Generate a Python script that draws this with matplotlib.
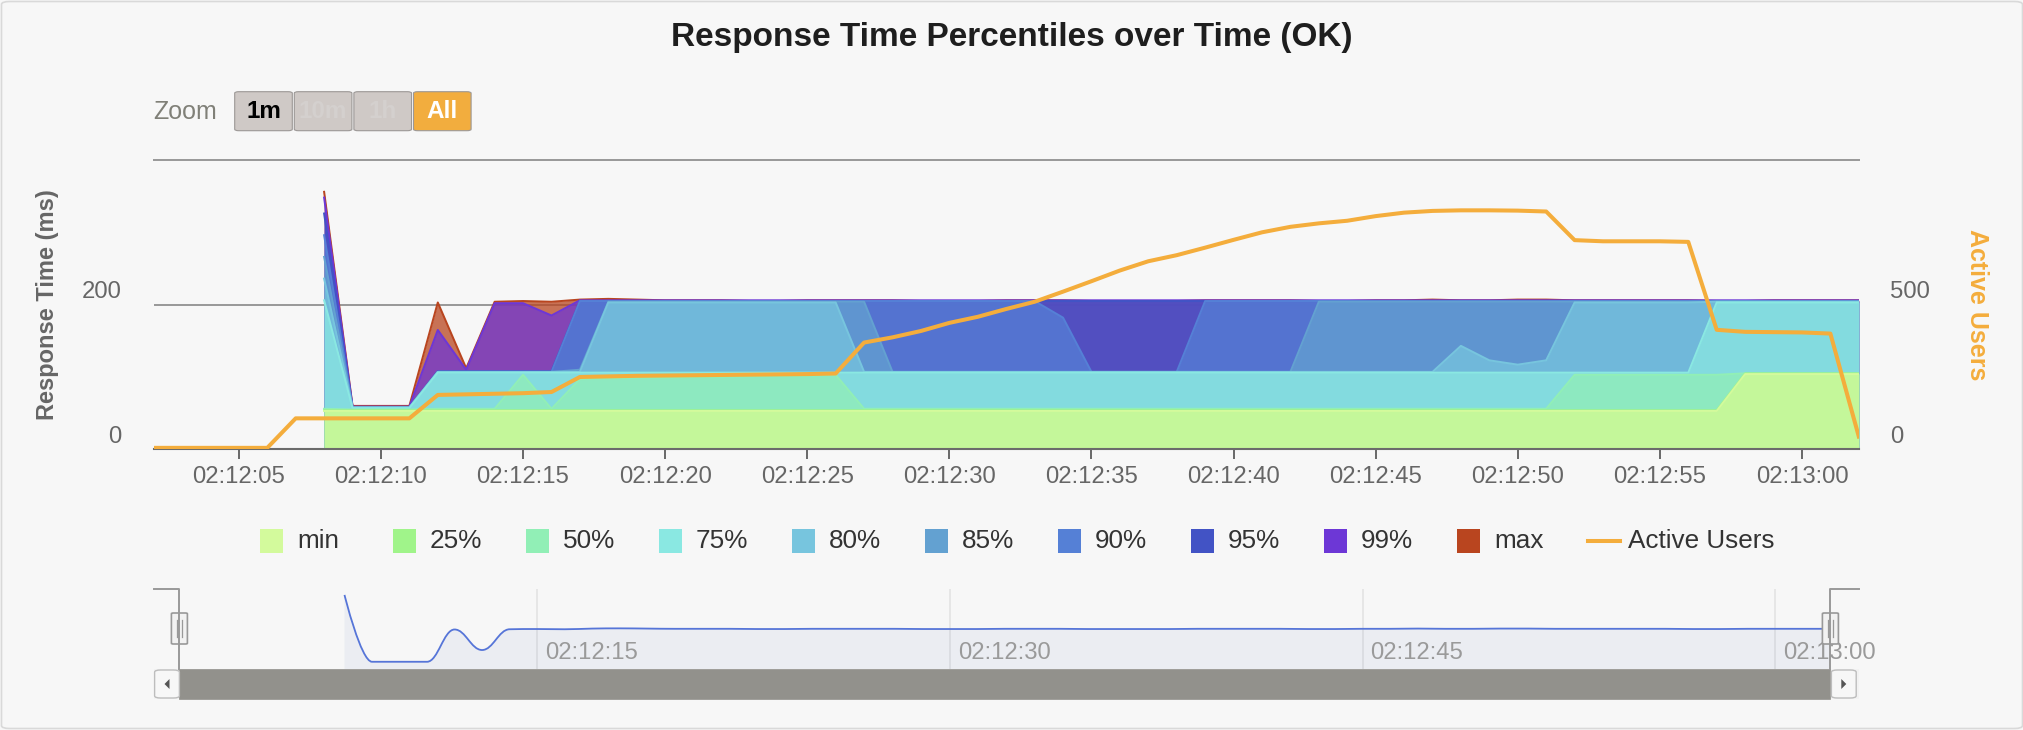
import numpy as np
import pandas as pd
import matplotlib
matplotlib.use('Agg')
import matplotlib.pyplot as plt
import matplotlib.dates as mdates
from matplotlib.path import Path
from matplotlib.patches import PathPatch, Rectangle, FancyBboxPatch, Polygon
from matplotlib.lines import Line2D
from matplotlib.transforms import blended_transform_factory, ScaledTranslation

plt.rcParams['font.family'] = ['Liberation Sans', 'DejaVu Sans']

# ---- data (one point per second) ----
users_start = "2024-01-01 02:12:02"
rt_start = "2024-01-01 02:12:08"

active_users = [5, 5, 5, 5, 5, 107, 107, 107, 107, 107,
                188, 190, 192, 194, 198, 250, 252, 254, 255, 256,
                257, 258, 259, 260, 262, 369, 387, 409, 437, 458,
                485, 510, 545, 581, 618, 650, 671, 697, 724, 750,
                769, 781, 790, 806, 818, 824, 826, 826, 825, 822,
                723, 719, 719, 719, 717, 413, 406, 405, 404, 400, 44]

p_min = [53] * 50 + [104] * 5
p25 = [54] * 50 + [105] * 5
p50 = [56, 55, 55, 55, 56, 56, 56, 103, 56, 97, 98, 99, 99, 100, 100, 101, 102, 102, 103] \
    + [56] * 25 + [103] * 6 + [105] * 5
p75 = [206, 57, 57, 57] + [106] * 45 + [203] * 6
p80 = [236, 58, 58, 58] + [107] * 6 + [203] * 9 + [107] * 21 + [143, 123, 117, 123] \
    + [203] * 5 + [204] * 6
p85 = [266, 58, 58, 58] + [107] * 5 + [110] + [204] * 10 + [107] * 15 + [204] * 20
p90 = [296, 58, 58, 58] + [107] * 5 + [205] * 17 + [182] + [107] * 4 + [205] * 24
p95 = [326, 58, 58, 58] + [108] * 5 + [205] * 46
p99 = [348, 59, 59, 59, 165, 110, 202, 202, 185] + [206] * 46
p_max = [356, 60, 60, 60, 203, 112, 204, 205, 204,
         207, 208, 207, 206, 206, 206, 205, 205, 206, 206,
         206, 206, 205, 205, 205, 206, 206, 206, 205, 205,
         205, 205, 206, 206, 206, 206, 205, 205, 206, 206,
         207, 206, 206, 207, 207, 206, 206, 206, 206, 206,
         205, 205, 206, 206, 206, 206]

series_names = ['min', '25%', '50%', '75%', '80%', '85%', '90%', '95%', '99%', 'max']
series_values = [p_min, p25, p50, p75, p80, p85, p90, p95, p99, p_max]
series_colors = ['#d3fa9c', '#a0f48a', '#91efb6', '#8ae8e2', '#77c5de',
                 '#63a1d1', '#5580d6', '#4253c5', '#6d37d6', '#b9451f']
users_color = '#f4ad3c'

users_time = mdates.date2num(pd.date_range(users_start, periods=len(active_users), freq="s").to_pydatetime())
rt_time = mdates.date2num(pd.date_range(rt_start, periods=len(p_min), freq="s").to_pydatetime())

W, H = 2024, 730
BG = '#f7f7f7'


def fx(px):
    return px / W


def fy(py):
    return 1 - py / H


def spline(xs, ys):
    # highcharts style spline control points
    n = len(xs)
    sm, den = 1.5, 2.5
    left = [None] * n
    right = [None] * n
    for i in range(1, n - 1):
        px, py = xs[i], ys[i]
        lx, ly = xs[i - 1], ys[i - 1]
        nx, ny = xs[i + 1], ys[i + 1]
        lcx, lcy = (sm * px + lx) / den, (sm * py + ly) / den
        rcx, rcy = (sm * px + nx) / den, (sm * py + ny) / den
        corr = (rcy - lcy) * (rcx - px) / (rcx - lcx) + py - rcy
        lcy += corr
        rcy += corr
        if lcy > ly and lcy > py:
            lcy = max(ly, py); rcy = 2 * py - lcy
        elif lcy < ly and lcy < py:
            lcy = min(ly, py); rcy = 2 * py - lcy
        if rcy > ny and rcy > py:
            rcy = max(ny, py); lcy = 2 * py - rcy
        elif rcy < ny and rcy < py:
            rcy = min(ny, py); lcy = 2 * py - rcy
        left[i] = (lcx, lcy)
        right[i] = (rcx, rcy)
    verts = [(xs[0], ys[0])]
    codes = [Path.MOVETO]
    for i in range(1, n):
        verts += [right[i - 1] or (xs[i - 1], ys[i - 1]), left[i] or (xs[i], ys[i]), (xs[i], ys[i])]
        codes += [Path.CURVE4] * 3
    return verts, codes


fig = plt.figure(figsize=(W / 100, H / 100), dpi=100, facecolor=BG)
fig.add_artist(FancyBboxPatch((fx(1.5), fy(728.5)), fx(2021), (727) / H,
                              boxstyle="round,pad=0,rounding_size=0.004", transform=fig.transFigure,
                              fc='none', ec='#d9d9d9', lw=1.2))

# ---- main chart ----
ax = fig.add_axes([fx(153.6), fy(449.3), (1858.8 - 153.6) / W, (449.3 - 160) / H])
ax.set_facecolor('none')
ax.set_xlim(users_time[0], users_time[-1])
ax.set_ylim(0, 400)
for s in ['top', 'left', 'right']:
    ax.spines[s].set_visible(False)
ax.spines['bottom'].set_color('#6b6b6b')
ax.spines['bottom'].set_linewidth(1.5)
ax.spines['bottom'].set_zorder(30)
ax.axhline(200, color='#9a9a9a', lw=1.44, zorder=0)
ax.axhline(400, color='#9a9a9a', lw=1.44, zorder=0, clip_on=False)
ax.set_yticks([])
ax.xaxis.set_major_locator(mdates.SecondLocator(bysecond=range(0, 60, 5)))
ax.xaxis.set_major_formatter(mdates.DateFormatter('%H:%M:%S'))
ax.tick_params(axis='x', length=7.2, width=1.44, color='#6b6b6b', labelcolor='#666666',
               labelsize=17.2, pad=5)

for name, vals, col, z in reversed(list(zip(series_names, series_values, series_colors, range(10)))):
    zz = 20 - 2 * z
    ax.fill_between(rt_time, 0, vals, color=col, alpha=0.75, lw=0, zorder=zz)
    ax.plot(rt_time, vals, color=col, lw=1.44, zorder=zz + 0.5)

off_l = ScaledTranslation(-32 / 100, 12.6 / 100, fig.dpi_scale_trans)
tl = blended_transform_factory(ax.transAxes, ax.transData) + off_l
for v in [0, 200]:
    ax.text(0, v, str(v), transform=tl, ha='right', va='center', color='#666666', fontsize=17.2)

ax2 = ax.twinx()
ax2.set_ylim(0, 1000)
ax2.set_yticks([])
for s in ax2.spines.values():
    s.set_visible(False)
ax2.plot(users_time, active_users, color=users_color, lw=2.9, solid_joinstyle='round', zorder=5)
off_r = ScaledTranslation(31 / 100, 12.6 / 100, fig.dpi_scale_trans)
tr = blended_transform_factory(ax2.transAxes, ax2.transData) + off_r
for v in [0, 500]:
    ax2.text(1, v, str(v), transform=tr, ha='left', va='center', color='#666666', fontsize=17.2)

fig.text(fx(48), fy(305), 'Response Time (ms)', rotation=90, ha='center', va='center',
         color='#666666', fontsize=17, fontweight='bold')
fig.text(fx(1977), fy(305), 'Active Users', rotation=-90, ha='center', va='center',
         color=users_color, fontsize=18, fontweight='bold')

fig.text(0.5, fy(37.5), 'Response Time Percentiles over Time (OK)', ha='center', va='center',
         fontsize=24, fontweight='bold', color='#1e1e1e')

# ---- range selector ----
fig.text(fx(153.6), fy(112), 'Zoom', ha='left', va='center', color='#808078', fontsize=18)
buttons = ['1m', '10m', '1h', 'All']
btn_fill = ['#cfc9c6', '#cfc9c6', '#cfc9c6', '#f2ad3e']
btn_text = ['#000000', '#d4d0ce', '#d4d0ce', '#ffffff']
for i, (b, fc, tc) in enumerate(zip(buttons, btn_fill, btn_text)):
    x0 = 233.7 + 59.6 * i
    fig.add_artist(FancyBboxPatch((fx(x0 + 1), fy(130.7)), fx(57.6), fy(91.7) - fy(130.7),
                                  boxstyle="round,pad=0,rounding_size=0.002",
                                  transform=fig.transFigure, fc=fc, ec='#9c9896', lw=0.8))
    fig.text(fx(x0 + 29.8), fy(111.5), b, ha='center', va='center', color=tc,
             fontsize=17.5, fontweight='bold')

# ---- legend ----
for i, (name, col) in enumerate(zip(series_names, series_colors)):
    x0 = 260 + 133 * i
    fig.add_artist(Rectangle((fx(x0), fy(553)), fx(23), fy(529) - fy(553),
                             transform=fig.transFigure, fc=col, ec='none'))
    fig.text(fx(x0 + 37), fy(541), name, ha='left', va='center', color='#333333', fontsize=18.8)
fig.add_artist(Line2D([fx(1588), fx(1620)], [fy(541), fy(541)], transform=fig.transFigure,
                      color=users_color, lw=2.9))
fig.text(fx(1628), fy(541), 'Active Users', ha='left', va='center', color='#333333', fontsize=18.8)

# ---- navigator ----
nav = fig.add_axes([fx(179.4), fy(669), (1830.4 - 179.4) / W, (669 - 588.6) / H])
nav.set_facecolor('none')
nav.set_xlim(users_time[0], users_time[-1])
nav.set_ylim(28, 384)
for s in nav.spines.values():
    s.set_visible(False)
nav.set_yticks([])
nav.xaxis.set_major_locator(mdates.SecondLocator(bysecond=[0, 15, 30, 45]))
nav.tick_params(axis='x', length=0, labelbottom=False)
nav.grid(axis='x', color='#e3e3e3', lw=1.2)
nav.set_axisbelow(True)
for t in nav.get_xticks():
    if users_time[0] <= t <= users_time[-1]:
        nav.text(t, 0.193, mdates.num2date(t).strftime('%H:%M:%S'),
                 transform=blended_transform_factory(nav.transData, nav.transAxes)
                 + ScaledTranslation(8 / 100, 0, fig.dpi_scale_trans),
                 ha='left', va='center', color='#9a9a9a', fontsize=17.2)

verts, codes = spline(list(rt_time), list(p_max))
area = verts + [(rt_time[-1], 28), (rt_time[0], 28), (rt_time[0], p_max[0])]
nav.add_patch(PathPatch(Path(area, codes + [Path.LINETO, Path.LINETO, Path.CLOSEPOLY]),
                        fc='#335cad', alpha=0.06, ec='none', zorder=2))
nav.add_patch(PathPatch(Path(verts, codes), fc='none', ec='#5675d8', lw=1.3, zorder=3))

# outline
fig.add_artist(Line2D([fx(153.6), fx(179.4), fx(179.4)], [fy(589), fy(589), fy(669)],
                      transform=fig.transFigure, color='#999999', lw=1.4))
fig.add_artist(Line2D([fx(1830.4), fx(1830.4), fx(1858.8)], [fy(669), fy(589), fy(589)],
                      transform=fig.transFigure, color='#999999', lw=1.4))

# scrollbar
fig.add_artist(Rectangle((fx(153.6), fy(699)), fx(1858.8 - 153.6), fy(669) - fy(699),
                         transform=fig.transFigure, fc='#f2f2f2', ec='none'))
fig.add_artist(Rectangle((fx(179.4), fy(699)), fx(1830.4 - 179.4), fy(669) - fy(699),
                         transform=fig.transFigure, fc='#92918c', ec='#92918c', lw=0.5))
for bx, d in [(153.6, -1), (1830.4, 1)]:
    fig.add_artist(FancyBboxPatch((fx(bx + 1), fy(698)), fx(24.8), fy(670) - fy(698),
                                  boxstyle="round,pad=0,rounding_size=0.003",
                                  transform=fig.transFigure, fc='#f7f7f7', ec='#bdbdbd', lw=1))
    cx, cy = bx + 13.4, 684
    tri = [(fx(cx - 2.5 * d), fy(cy - 5)), (fx(cx - 2.5 * d), fy(cy + 5)), (fx(cx + 2.5 * d), fy(cy))]
    fig.add_artist(Polygon(tri, closed=True, transform=fig.transFigure, fc='#555555', ec='none'))

# handles
for hx in [179.4, 1830.4]:
    fig.add_artist(FancyBboxPatch((fx(hx - 8), fy(644)), fx(16), fy(613) - fy(644),
                                  boxstyle="round,pad=0,rounding_size=0.001",
                                  transform=fig.transFigure, fc='#f2f2f2', ec='#999999', lw=1.2))
    for dx in [-2.2, 2.2]:
        fig.add_artist(Line2D([fx(hx + dx), fx(hx + dx)], [fy(620), fy(637)],
                              transform=fig.transFigure, color='#999999', lw=0.9))

fig.savefig('out.png', dpi=100, facecolor=BG)
